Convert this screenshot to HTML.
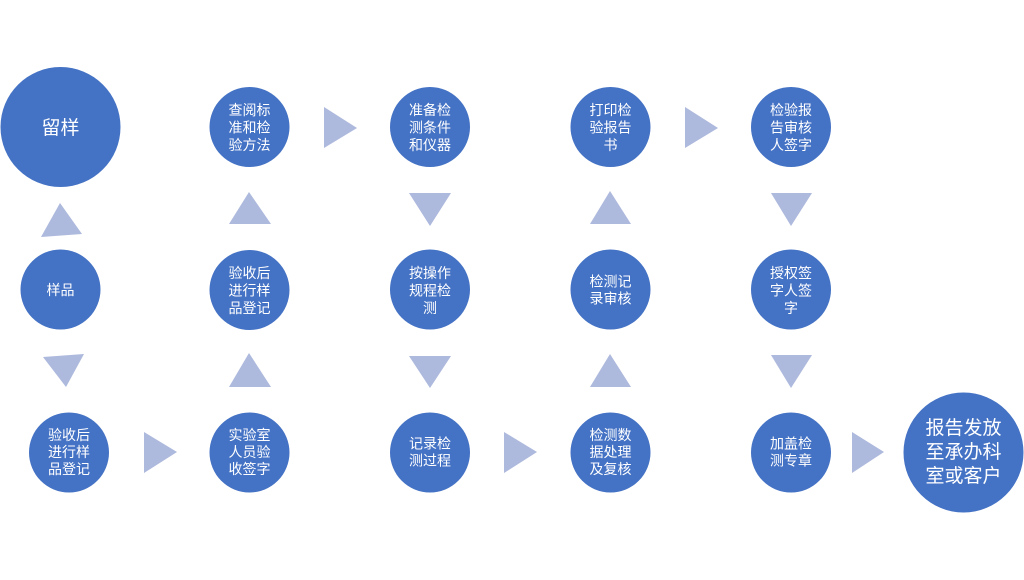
<!DOCTYPE html>
<html><head><meta charset="utf-8">
<style>
html,body{margin:0;padding:0;background:#fff;}
svg{display:block;}
text{font-family:"Liberation Sans","Noto Sans CJK SC",sans-serif;fill:#fff;text-anchor:middle;}
.s{font-size:14px;}
.b{font-size:19px;}
</style></head>
<body>
<svg width="1024" height="580" viewBox="0 0 1024 580" xmlns="http://www.w3.org/2000/svg">
<rect width="1024" height="580" fill="#fff"/>
<g fill="#ADB9DD">
<polygon points="60,203 41,237 82,234"/>
<polygon points="43,357 84,354 66,387"/>
<polygon points="144,432 144,473 177,452"/>
<polygon points="249,353 229,387 271,387"/>
<polygon points="249,192 229,224 271,224"/>
<polygon points="324,107 324,148 357,128"/>
<polygon points="409,193 451,193 430,226"/>
<polygon points="409,356 451,356 430,388"/>
<polygon points="504,432 504,473 537,452"/>
<polygon points="610,354 590,387 631,387"/>
<polygon points="610,191 590,224 631,224"/>
<polygon points="685,107 685,148 718,128"/>
<polygon points="771,193 812,193 791,226"/>
<polygon points="771,355 812,355 791,388"/>
<polygon points="852,432 852,473 884,452"/>
</g>
<g fill="#4472C4">
<circle cx="60.5" cy="127" r="60"/>
<circle cx="60.5" cy="289.5" r="40"/>
<circle cx="69" cy="452.5" r="40"/>
<circle cx="249.5" cy="127" r="40"/>
<circle cx="249.5" cy="290" r="40"/>
<circle cx="249.5" cy="452.5" r="40"/>
<circle cx="430" cy="127" r="40"/>
<circle cx="430" cy="289.5" r="40"/>
<circle cx="430" cy="452.5" r="40"/>
<circle cx="610.5" cy="127" r="40"/>
<circle cx="610.5" cy="289.5" r="40"/>
<circle cx="610.5" cy="452.5" r="40"/>
<circle cx="791" cy="127" r="40"/>
<circle cx="791" cy="289.5" r="40"/>
<circle cx="791" cy="452.5" r="40"/>
<circle cx="963.5" cy="452.5" r="60"/>
</g>
<text class="b" x="60.5" y="134">留样</text>
<text class="s" x="60.5" y="295">样品</text>

<text class="s" x="69" y="440">验收后</text>
<text class="s" x="69" y="457">进行样</text>
<text class="s" x="69" y="474">品登记</text>

<text class="s" x="249.5" y="115">查阅标</text>
<text class="s" x="249.5" y="132.5">准和检</text>
<text class="s" x="249.5" y="150">验方法</text>

<text class="s" x="249.5" y="278">验收后</text>
<text class="s" x="249.5" y="295.5">进行样</text>
<text class="s" x="249.5" y="313">品登记</text>

<text class="s" x="249.5" y="440">实验室</text>
<text class="s" x="249.5" y="457">人员验</text>
<text class="s" x="249.5" y="474">收签字</text>

<text class="s" x="430" y="115">准备检</text>
<text class="s" x="430" y="132.5">测条件</text>
<text class="s" x="430" y="150">和仪器</text>

<text class="s" x="430" y="278">按操作</text>
<text class="s" x="430" y="295.5">规程检</text>
<text class="s" x="430" y="313">测</text>

<text class="s" x="430" y="448.5">记录检</text>
<text class="s" x="430" y="465.5">测过程</text>

<text class="s" x="610.5" y="115">打印检</text>
<text class="s" x="610.5" y="132.5">验报告</text>
<text class="s" x="610.5" y="150">书</text>

<text class="s" x="610.5" y="286.5">检测记</text>
<text class="s" x="610.5" y="303.5">录审核</text>

<text class="s" x="610.5" y="440">检测数</text>
<text class="s" x="610.5" y="457">据处理</text>
<text class="s" x="610.5" y="474">及复核</text>

<text class="s" x="791" y="115">检验报</text>
<text class="s" x="791" y="132.5">告审核</text>
<text class="s" x="791" y="150">人签字</text>

<text class="s" x="791" y="278">授权签</text>
<text class="s" x="791" y="295.5">字人签</text>
<text class="s" x="791" y="313">字</text>

<text class="s" x="791" y="448.5">加盖检</text>
<text class="s" x="791" y="465.5">测专章</text>

<text class="b" x="963.5" y="434">报告发放</text>
<text class="b" x="963.5" y="458">至承办科</text>
<text class="b" x="963.5" y="482">室或客户</text>
</svg>
</body></html>
